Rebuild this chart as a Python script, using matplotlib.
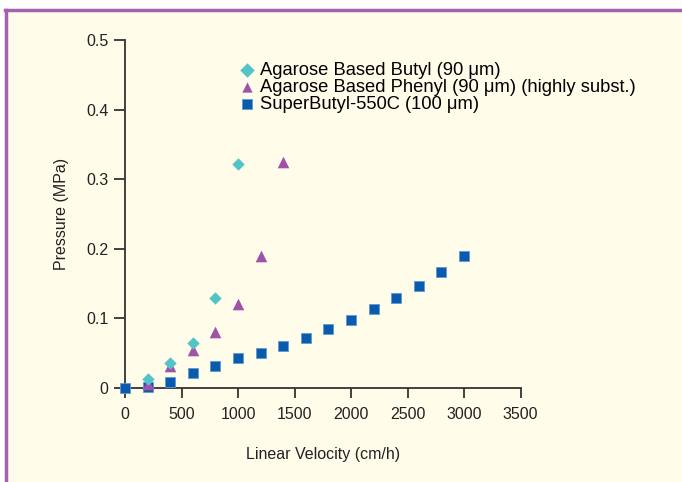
import matplotlib
matplotlib.use("Agg")
import matplotlib.pyplot as plt
from matplotlib.lines import Line2D

# data
butyl_x = [200, 400, 600, 800, 1000]
butyl_y = [0.013, 0.036, 0.064, 0.129, 0.322]

phenyl_x = [200, 400, 600, 800, 1000, 1200, 1400]
phenyl_y = [0.006, 0.032, 0.055, 0.081, 0.120, 0.189, 0.324]

super_x = [0, 200, 400, 600, 800, 1000, 1200, 1400, 1600, 1800, 2000, 2200, 2400, 2600, 2800, 3000]
super_y = [0.0, 0.002, 0.008, 0.022, 0.031, 0.043, 0.050, 0.060, 0.072, 0.085, 0.097, 0.113, 0.129, 0.146, 0.166, 0.189]

labels = ["Agarose Based Butyl (90 μm)",
          "Agarose Based Phenyl (90 μm) (highly subst.)",
          "SuperButyl-550C (100 μm)"]

x_ticks = [0, 500, 1000, 1500, 2000, 2500, 3000, 3500]
y_ticks = [0, 0.1, 0.2, 0.3, 0.4, 0.5]
y_tick_labels = ["0", "0.1", "0.2", "0.3", "0.4", "0.5"]

bg = "#FFFCEA"
border = "#A660B2"
sans = ["Liberation Sans", "DejaVu Sans"]

fig = plt.figure(figsize=(6.82, 4.82), dpi=100, facecolor="white")
# cream panel with purple frame at top and left
panel = plt.Rectangle((6 / 682, 0), 1, 1 - 10 / 482, transform=fig.transFigure,
                      facecolor=bg, edgecolor="none", zorder=-1)
fig.patches.append(panel)
fig.add_artist(Line2D([6 / 682, 6 / 682], [0, 1 - 10 / 482], transform=fig.transFigure,
                      color=border, lw=2.5, zorder=-0.5))
fig.add_artist(Line2D([5 / 682, 1], [1 - 10 / 482, 1 - 10 / 482], transform=fig.transFigure,
                      color=border, lw=2.5, zorder=-0.5))

ax = fig.add_axes([125 / 682, 94 / 482, 395.5 / 682, 348 / 482])
ax.set_facecolor("none")

ax.scatter(super_x, super_y, marker="s", s=60, color="#0A5BAE", edgecolors="#5F9AD6",
           linewidths=0.6, clip_on=False, zorder=3, label=labels[2])
ax.scatter(phenyl_x, phenyl_y, marker="^", s=70, color="#A052A9", linewidths=0,
           clip_on=False, zorder=4, label=labels[1])
ax.scatter(butyl_x, butyl_y, marker="D", s=40, color="#52C4C8", linewidths=0,
           clip_on=False, zorder=5, label=labels[0])

ax.set_xlim(0, 3500)
ax.set_ylim(0, 0.5)
ax.set_xticks(x_ticks)
ax.set_yticks(y_ticks)
ax.set_yticklabels(y_tick_labels)
for s in ["top", "right"]:
    ax.spines[s].set_visible(False)
for s in ["left", "bottom"]:
    ax.spines[s].set_color("#333333")
    ax.spines[s].set_linewidth(1.3)
ax.tick_params(axis="x", direction="out", length=7, width=1.3, color="#333333", pad=7,
               labelsize=11.5, labelcolor="#222222")
ax.tick_params(axis="y", direction="out", length=8, width=1.3, color="#333333", pad=4,
               labelsize=11.5, labelcolor="#222222")
for t in ax.get_xticklabels() + ax.get_yticklabels():
    t.set_family(sans)

ax.set_xlabel("Linear Velocity (cm/h)", family=sans, fontsize=11.5, color="#222222", labelpad=18)
ax.set_ylabel("Pressure (MPa)", family=sans, fontsize=11.5, color="#222222", labelpad=12)

handles, labs = ax.get_legend_handles_labels()
order = [2, 1, 0]
leg = ax.legend([handles[i] for i in order], [labs[i] for i in order],
                loc="upper left", bbox_to_anchor=(0.245, 0.985), frameon=False,
                handletextpad=0.3, handlelength=0.9, labelspacing=0.0,
                borderaxespad=0.5, prop={"family": sans, "size": 13.2})
for h in leg.legend_handles:
    h.set_sizes([55])

fig.savefig("out.png", dpi=100, facecolor=fig.get_facecolor())
